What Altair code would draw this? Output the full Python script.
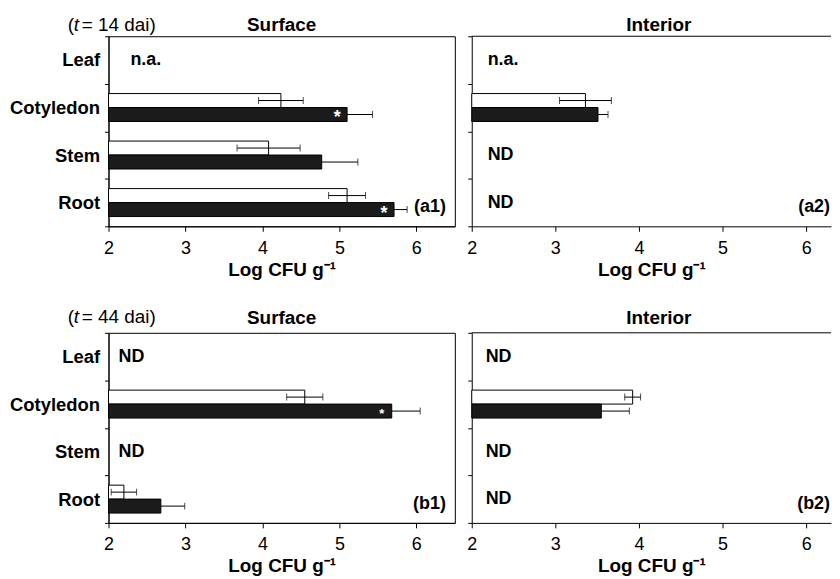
import altair as alt
import pandas as pd

categories = ["Leaf", "Cotyledon", "Stem", "Root"]
series = ["open", "filled"]
x_ticks = [2, 3, 4, 5, 6]

# (a1) 14 dai, surface
a1_open = [None, 4.24, 4.08, 5.10]
a1_open_err = [None, 0.29, 0.41, 0.24]
a1_filled = [None, 5.10, 4.77, 5.71]
a1_filled_err = [None, 0.33, 0.47, 0.17]
a1_notes = ["n.a.", None, None, None]
a1_stars = [None, "*", None, "*"]

# (a2) 14 dai, interior
a2_open = [None, 3.36, None, None]
a2_open_err = [None, 0.31, None, None]
a2_filled = [None, 3.51, None, None]
a2_filled_err = [None, 0.12, None, None]
a2_notes = ["n.a.", None, "ND", "ND"]
a2_stars = [None, None, None, None]

# (b1) 44 dai, surface
b1_open = [None, 4.55, None, 2.20]
b1_open_err = [None, 0.235, None, 0.165]
b1_filled = [None, 5.68, None, 2.68]
b1_filled_err = [None, 0.37, None, 0.31]
b1_notes = ["ND", None, "ND", None]
b1_stars = [None, "*", None, None]

# (b2) 44 dai, interior
b2_open = [None, 3.925, None, None]
b2_open_err = [None, 0.095, None, None]
b2_filled = [None, 3.55, None, None]
b2_filled_err = [None, 0.335, None, None]
b2_notes = ["ND", None, "ND", "ND"]
b2_stars = [None, None, None, None]

FONT = "Liberation Sans"
PANEL_H = 191


def panel(open_v, open_e, filled_v, filled_e, notes, stars, title, tag,
          width, xmax, left, note_x, star_size, head_y, dai=None,
          title_x=None, tag_x=None):
    rows = []
    for cat, ov, oe, fv, fe in zip(categories, open_v, open_e, filled_v, filled_e):
        if ov is not None:
            rows.append({"cat": cat, "series": "open", "v": ov, "lo": ov - oe, "hi": ov + oe})
        if fv is not None:
            rows.append({"cat": cat, "series": "filled", "v": fv, "lo": fv - fe, "hi": fv + fe})
    bars_df = pd.DataFrame(rows)
    notes_df = pd.DataFrame([{"cat": c, "note": n} for c, n in zip(categories, notes) if n])
    star_df = pd.DataFrame([{"cat": c, "series": "filled", "v": fv, "s": s}
                            for c, s, fv in zip(categories, stars, filled_v) if s])

    yaxis = alt.Axis(title=None, labels=left, labelFontSize=18.5, labelFontWeight="bold",
                     labelColor="black", tickBand="extent", tickSize=4, tickColor="black",
                     labelPadding=5, domainColor="black", minExtent=100 if left else 0,
                     labelFont=FONT)
    xaxis = alt.Axis(title="Log CFU g\u207b\u00b9", values=x_ticks, grid=False,
                     labelFontSize=18, labelColor="black", labelFont=FONT,
                     titleFontSize=19, titleFontWeight="bold", titleColor="black", titleFont=FONT,
                     tickSize=5, tickColor="black", labelPadding=8, titlePadding=3,
                     domainColor="black", labelFlush=False)
    Y = alt.Y("cat:N", scale=alt.Scale(domain=categories, paddingInner=0, paddingOuter=0), axis=yaxis)
    YO = alt.YOffset("series:N", scale=alt.Scale(domain=series, paddingInner=0, paddingOuter=0.7))
    xs = alt.Scale(domain=[2, xmax], nice=False, zero=False)
    X = lambda f: alt.X(f, scale=xs, axis=xaxis)

    layers = []
    bars = alt.Chart(bars_df).mark_bar(stroke="black", strokeWidth=1).encode(
        y=Y, yOffset=YO, x=X("v:Q"), x2=alt.datum(2),
        color=alt.Color("series:N", scale=alt.Scale(domain=series, range=["white", "#1b1b1b"]), legend=None),
    )
    # whiskers: open bars show both sides; filled bars only show the part beyond the bar
    rule = alt.Chart(bars_df).transform_calculate(
        start="datum.series == 'open' ? datum.lo : datum.v"
    ).mark_rule(color="black", strokeWidth=1).encode(
        y=Y, yOffset=YO, x=X("start:Q"), x2="hi:Q")
    cap_lo = alt.Chart(bars_df).transform_filter("datum.series == 'open'").mark_tick(
        color="black", thickness=1, size=7).encode(y=Y, yOffset=YO, x=X("lo:Q"))
    cap_hi = alt.Chart(bars_df).mark_tick(color="black", thickness=1, size=7).encode(
        y=Y, yOffset=YO, x=X("hi:Q"))
    layers += [bars, rule, cap_lo, cap_hi]
    note = alt.Chart(notes_df).mark_text(align="left", baseline="middle", fontSize=18,
                                         fontWeight="bold", font=FONT, color="black").encode(
        y=Y, x=alt.value(note_x), text="note:N")
    layers.append(note)
    if len(star_df):
        star = alt.Chart(star_df).mark_text(align="center", baseline="middle", fontSize=star_size,
                                            fontWeight="bold", font=FONT, color="white",
                                            dx=-10, dy=round(star_size * 0.25)).encode(
            y=Y, yOffset=YO, x=X("v:Q"), text="s:N")
        layers.append(star)
    tag_df = pd.DataFrame({"t": [tag], "title": [title]})
    tagm = alt.Chart(tag_df).mark_text(align="right", baseline="middle", fontSize=18,
                                       fontWeight="bold", font=FONT, color="black").encode(
        x=alt.value(tag_x if tag_x is not None else width - 9), y=alt.value(PANEL_H - 19), text="t:N")
    layers.append(tagm)
    head = alt.Chart(tag_df).mark_text(align="center", baseline="middle", fontSize=19,
                                       fontWeight="bold", font=FONT, color="black").encode(
        x=alt.value(title_x if title_x is not None else width / 2), y=alt.value(head_y), text="title:N")
    layers.append(head)
    if not left:
        # top frame line of a panel whose right edge is cropped
        frame = alt.Chart(tag_df).mark_rule(color="black", strokeWidth=1).encode(
            x=alt.value(0), x2=alt.value(width), y=alt.value(0))
        layers.append(frame)
    if dai is not None:
        ddf = pd.DataFrame({"a": ["("], "b": ["t"], "c": ["= " + dai + " dai)"]})
        base = alt.Chart(ddf)
        dy = head_y - 0.5
        layers.append(base.mark_text(align="left", baseline="middle", fontSize=19, font=FONT, color="black")
                      .encode(x=alt.value(-41), y=alt.value(dy), text="a:N"))
        layers.append(base.mark_text(align="left", baseline="middle", fontSize=19, font=FONT,
                                     fontStyle="italic", color="black")
                      .encode(x=alt.value(-35), y=alt.value(dy), text="b:N"))
        layers.append(base.mark_text(align="left", baseline="middle", fontSize=19, font=FONT, color="black")
                      .encode(x=alt.value(-27), y=alt.value(dy), text="c:N"))
    props = dict(width=width, height=PANEL_H)
    if not left:
        props["view"] = alt.ViewBackground(stroke=None)
    return alt.layer(*layers).properties(**props)


RIGHT_W = 361
RIGHT_MAX = 2 + RIGHT_W / 84.0

a1 = panel(a1_open, a1_open_err, a1_filled, a1_filled_err, a1_notes, a1_stars,
           "Surface", "(a1)", 348, 6.5, True, 22, 18, -11, dai="14")
a2 = panel(a2_open, a2_open_err, a2_filled, a2_filled_err, a2_notes, a2_stars,
           "Interior", "(a2)", RIGHT_W, RIGHT_MAX, False, 16, 18, -11, title_x=188, tag_x=RIGHT_W - 1)
b1 = panel(b1_open, b1_open_err, b1_filled, b1_filled_err, b1_notes, b1_stars,
           "Surface", "(b1)", 348, 6.5, True, 10, 13, -15, dai="44")
b2 = panel(b2_open, b2_open_err, b2_filled, b2_filled_err, b2_notes, b2_stars,
           "Interior", "(b2)", RIGHT_W, RIGHT_MAX, False, 14, 18, -15, title_x=188, tag_x=RIGHT_W - 1)

chart = alt.vconcat(
    alt.hconcat(a1, a2, spacing=10),
    alt.hconcat(b1, b2, spacing=10),
    spacing=28,
).properties(
    padding={"left": 0, "top": 6, "right": 0, "bottom": 0},
    background="white",
).configure(font=FONT).configure_view(stroke="black", strokeWidth=1)

chart.save("out.html", embed_options={"renderer": "svg", "actions": False})
